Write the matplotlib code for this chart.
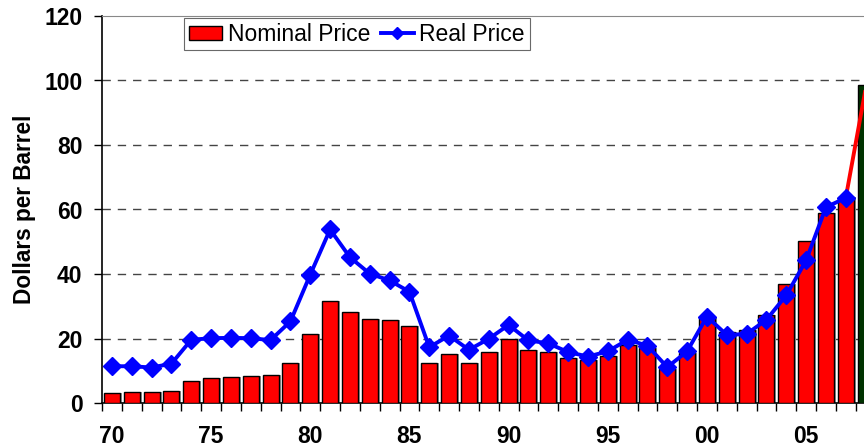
import matplotlib.pyplot as plt
import numpy as np

years = list(range(1970, 2009))
nominal = [3.0, 3.3, 3.3, 3.8, 6.8, 7.6, 8.0, 8.4, 8.8, 12.5,
           21.3, 31.6, 28.3, 26.1, 25.7, 24.0, 12.5, 15.3, 12.5, 15.7,
           19.8, 16.3, 15.9, 14.1, 13.2, 14.6, 18.1, 17.0, 10.6, 15.4,
           26.6, 21.9, 22.5, 27.4, 36.8, 50.1, 58.9, 63.8, 98.7]
real = [11.4, 11.4, 11.0, 12.2, 19.6, 20.1, 20.2, 20.1, 19.5, 25.3,
        39.8, 53.8, 45.2, 40.1, 38.0, 34.5, 17.3, 20.9, 16.5, 19.9,
        24.2, 19.4, 18.5, 15.8, 14.4, 16.0, 19.6, 17.8, 11.1, 16.0,
        26.8, 21.1, 21.4, 25.8, 33.4, 44.2, 60.7, 63.6, 97.4]
tick_labels = ["70", "75", "80", "85", "90", "95", "00", "05"]

plt.rcParams['font.family'] = ['Liberation Sans', 'DejaVu Sans']

fig = plt.figure(figsize=(8.64, 4.48), dpi=100)
ax = fig.add_axes([102 / 864, 45 / 448, 1 - 102 / 864, 387 / 448])

x = np.arange(len(years))
colors = ['#ff0000'] * (len(years) - 1) + ['#003300']

# shadow behind the bars
ax.bar(x + 0.1, nominal, width=0.8, color='#999999', edgecolor='none', zorder=2)
bars = ax.bar(x, nominal, width=0.8, color=colors, edgecolor='black', linewidth=1.0,
              zorder=3, label='Nominal Price')

# real price, last segment red
ax.plot(x[-2:], real[-2:], color='#ff0000', linewidth=2.8, zorder=4)
line, = ax.plot(x[:-1], real[:-1], color='#0000ff', linewidth=2.8, marker='D',
                markersize=9.5, zorder=5, label='Real Price')

ax.set_xlim(-0.5, 37.92)
ax.set_ylim(0, 120)
ax.set_yticks(range(0, 121, 20))
for v in range(20, 101, 20):
    ax.axhline(v, color='#444444', linewidth=1.0, linestyle=(0, (6, 5)), zorder=1)

ax.set_xticks(np.arange(0, 36, 5))
ax.set_xticklabels(tick_labels)
ax.set_xticks(np.arange(-0.5, 38, 1), minor=True)
ax.tick_params(axis='x', which='major', length=0, pad=16, labelsize=16.5)
ax.tick_params(axis='x', which='minor', length=6, width=1, direction='out')
ax.tick_params(axis='y', length=6, width=1, pad=8, labelsize=16.5)
for lbl in ax.get_xticklabels() + ax.get_yticklabels():
    lbl.set_fontweight('bold')

ax.spines['right'].set_visible(False)
ax.spines['top'].set_color('#888888')
ax.spines['top'].set_linewidth(0.8)
ax.spines['left'].set_linewidth(1.2)
ax.spines['bottom'].set_linewidth(1.2)

ax.set_ylabel('Dollars per Barrel', fontsize=16.3, fontweight='bold', labelpad=6)

leg = ax.legend(handles=[bars, line], ncol=2, loc='upper left',
                bbox_to_anchor=(0.105, 1.0), fontsize=16.5, frameon=True, fancybox=False,
                edgecolor='#444444', handlelength=1.45, handleheight=0.6,
                handletextpad=0.25, columnspacing=0.45, borderpad=0.2, borderaxespad=0.1)
leg.get_frame().set_linewidth(0.8)
leg.legend_handles[1].set_markersize(6)

fig.savefig('out.png', dpi=100)
